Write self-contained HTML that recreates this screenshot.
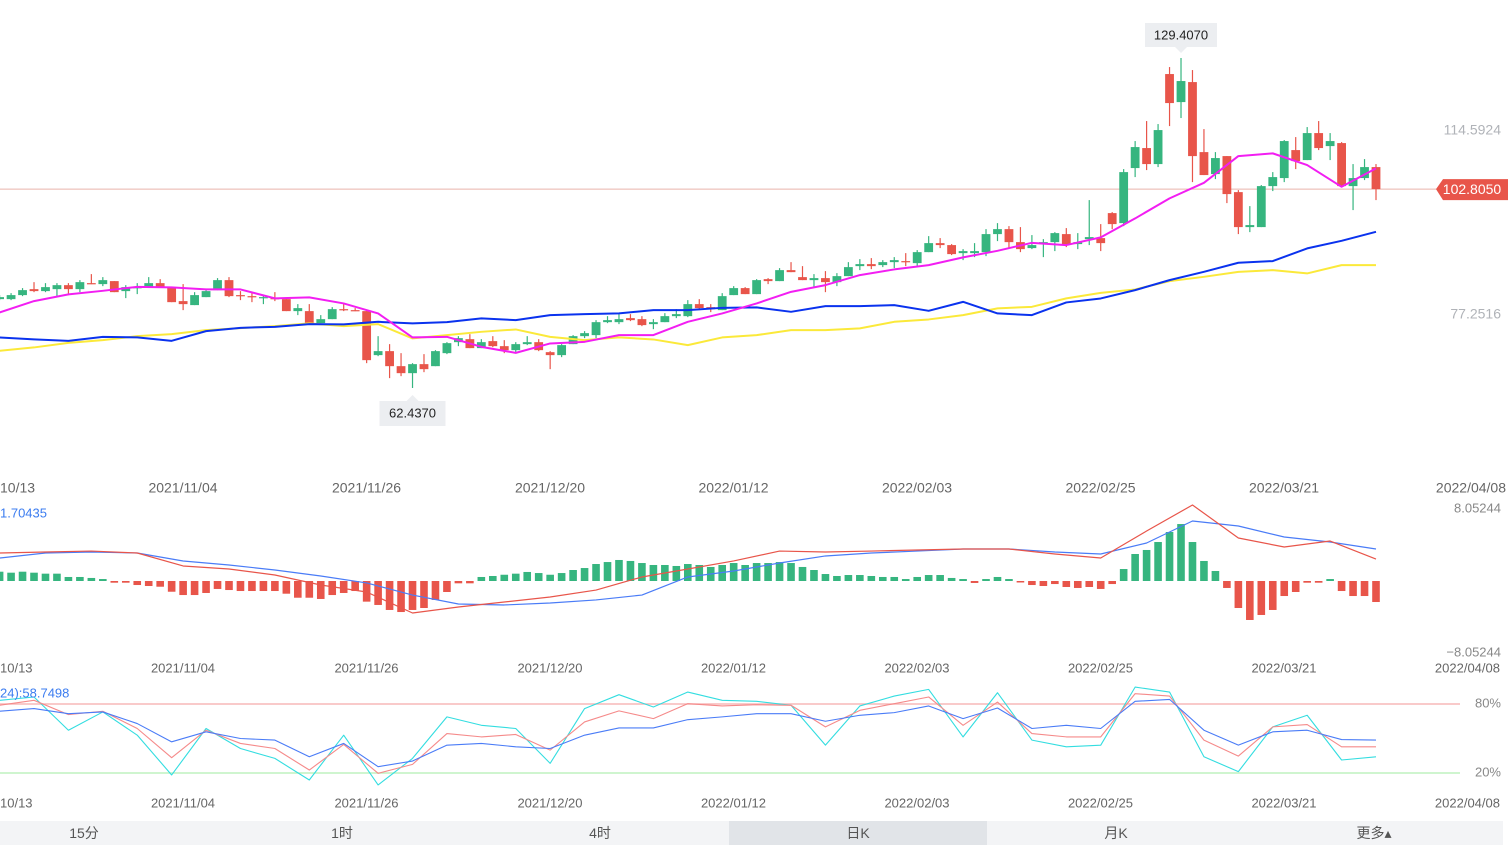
<!DOCTYPE html>
<html><head><meta charset="utf-8"><style>
html,body{margin:0;padding:0;background:#fff;width:1510px;height:850px;overflow:hidden;font-family:"Liberation Sans","Noto Sans CJK SC",sans-serif}
svg{position:absolute;left:0;top:0}
.tabs{position:absolute;left:0;top:821px;width:1503px;height:24px;background:#f3f4f6;overflow:hidden}
.tab{position:absolute;top:0;width:258px;text-align:center;font-size:14px;line-height:24px;color:#555}
.tab.sel{background:#e1e4e8}
</style></head><body>
<svg id="chart" width="1510" height="850" xmlns="http://www.w3.org/2000/svg"></svg>
<div class="tabs">
<div class="tab" style="left:-45px">15分</div>
<div class="tab" style="left:213px">1时</div>
<div class="tab" style="left:471px">4时</div>
<div class="tab sel" style="left:729px">日K</div>
<div class="tab" style="left:987px">月K</div>
<div class="tab" style="left:1245px">更多▴</div>
</div>
<script>
const opens=[80.47,80.47,81.29,82.50,82.10,82.50,83.31,82.50,83.72,83.52,84.13,82.10,82.71,82.91,83.72,82.91,80.07,79.26,80.88,82.30,84.33,81.29,81.08,80.68,80.68,80.47,78.04,78.04,75.60,76.41,78.44,78.24,78.04,69.11,69.92,66.87,65.45,67.28,66.87,69.51,71.74,72.35,70.53,71.95,70.93,70.12,71.34,71.74,69.71,69.11,71.34,72.96,73.17,75.80,75.80,76.62,76.41,75.40,75.80,77.02,77.02,79.46,78.85,78.24,81.29,82.71,81.49,84.53,84.13,86.36,84.94,84.33,84.74,83.92,85.14,87.17,87.58,87.38,87.98,88.19,87.78,90.01,91.84,91.44,89.81,89.81,90.01,93.67,94.68,92.04,90.83,91.64,92.04,93.67,91.64,92.65,92.86,97.93,95.90,107.07,111.13,107.88,126.15,120.46,124.52,110.31,105.85,109.50,102.19,95.09,95.09,103.41,105.04,110.72,108.69,114.17,111.53,112.14,103.41,105.04,107.27];
const highs=[81.29,81.69,82.71,83.92,83.72,83.72,83.72,84.33,85.55,84.94,84.13,83.31,83.72,84.94,84.53,82.91,83.52,81.89,82.30,84.74,84.94,82.10,81.69,81.29,81.89,80.47,79.46,79.46,77.23,78.85,79.46,78.65,78.04,72.96,71.34,69.51,67.48,69.31,70.12,71.74,72.96,73.37,72.35,72.96,72.15,71.74,72.96,72.35,69.92,71.34,73.17,73.98,76.21,77.02,77.43,77.43,77.02,76.41,77.63,78.44,80.27,80.47,79.46,81.69,83.11,82.91,84.53,84.74,86.77,87.98,87.17,85.55,86.16,85.75,87.98,88.59,88.80,88.39,89.00,89.81,90.42,93.26,92.86,91.64,90.62,91.84,94.68,95.90,95.29,95.09,93.47,92.65,94.07,94.89,93.87,100.57,95.70,98.13,106.86,112.55,116.61,116.00,127.57,129.41,126.96,114.98,110.31,109.50,102.60,99.35,103.62,106.25,112.75,113.36,115.39,116.61,114.17,112.34,107.88,108.89,107.88];
const lows=[80.27,80.27,81.08,81.89,81.89,80.88,81.29,81.89,83.52,83.11,81.89,80.68,81.49,82.91,82.91,79.86,78.24,79.26,80.88,82.30,80.88,80.27,79.86,79.46,80.07,78.04,77.23,75.60,75.60,76.41,78.04,78.04,67.48,68.90,64.44,64.84,62.44,65.65,66.87,69.31,70.93,70.53,70.53,70.73,69.51,69.51,71.14,69.92,66.26,68.70,71.34,72.56,72.56,75.60,75.40,76.01,74.99,74.38,75.80,76.62,76.82,78.24,77.83,78.24,81.29,81.49,81.49,83.52,84.13,85.95,84.33,82.91,81.89,83.11,85.14,86.36,86.56,86.97,86.77,87.17,86.97,90.01,90.83,89.41,88.39,89.00,89.20,92.25,90.83,90.01,90.62,89.00,90.22,91.03,90.62,91.44,90.22,94.68,95.29,105.24,106.66,107.27,115.59,117.22,104.22,105.65,104.83,99.96,93.67,94.07,95.09,102.40,104.22,106.86,108.69,110.72,108.69,103.41,98.54,104.63,100.57];
const closes=[80.88,81.29,82.30,82.10,82.91,83.31,82.50,83.92,83.52,84.33,81.89,82.91,82.91,83.72,82.91,79.86,79.46,81.29,82.10,84.33,81.08,81.08,80.88,80.88,80.47,78.04,78.65,75.60,76.41,78.44,78.24,78.04,68.09,69.92,66.87,65.45,67.28,66.26,69.92,71.54,72.56,70.53,71.74,70.93,70.12,71.34,71.74,70.12,69.11,71.14,72.96,73.57,75.80,76.21,76.41,76.21,75.20,75.80,77.02,77.43,79.46,78.65,78.44,81.08,82.71,81.49,84.33,84.13,86.36,85.95,84.33,84.74,83.92,85.14,86.97,87.58,87.17,87.98,88.39,87.98,90.01,91.84,91.44,89.61,90.22,90.22,93.67,94.68,92.04,90.62,91.44,92.04,93.87,91.64,92.04,93.06,91.84,95.70,106.25,111.33,107.88,114.78,120.26,124.73,109.50,105.65,109.10,101.79,95.09,95.50,103.41,105.24,112.55,108.49,114.17,111.13,112.55,103.41,105.04,107.27,102.805];
// moving-average lines sampled every 3 candles
const maPink=[77.77,80.07,81.43,82.16,82.97,82.85,82.44,82.44,80.62,80.82,79.60,77.57,72.70,72.82,70.79,69.57,71.48,71.81,73.17,73.17,75.87,77.57,79.60,81.95,83.32,85.35,86.50,87.38,88.94,90.28,91.90,91.44,93.00,96.85,100.92,104.08,109.50,110.05,107.68,103.27,107.01];
const maBlue=[72.70,72.30,72.01,72.82,72.70,72.01,73.98,74.65,74.85,75.40,75.34,75.87,75.54,75.81,76.56,76.21,77.23,77.43,77.57,78.24,78.24,78.71,78.79,77.90,79.05,79.05,79.26,78.10,79.92,77.57,77.23,79.80,80.61,82.30,84.33,86.02,87.85,88.19,90.77,92.31,94.14];
const maYellow=[69.98,70.67,71.60,72.15,72.96,73.37,74.18,74.59,75.00,75.54,75.00,75.40,72.50,73.17,73.84,74.32,72.82,72.15,72.70,72.29,71.14,72.70,73.17,74.18,74.18,74.53,75.87,76.35,77.23,78.59,78.91,80.62,81.75,82.44,84.13,85.00,86.01,86.36,85.69,87.38,87.38];
const macdHist=[1.04,0.93,1.04,0.93,0.82,0.82,0.45,0.45,0.34,0.22,-0.19,-0.19,-0.45,-0.56,-0.64,-1.20,-1.57,-1.57,-1.34,-0.89,-1.01,-1.12,-1.12,-1.12,-1.12,-1.42,-1.87,-1.87,-2.01,-1.57,-1.34,-1.12,-2.31,-2.68,-3.24,-3.47,-3.24,-3.02,-2.12,-1.23,-0.26,-0.26,0.45,0.56,0.70,0.82,1.01,0.89,0.70,0.89,1.23,1.45,1.90,2.12,2.35,2.24,2.01,1.79,1.79,1.68,1.90,1.79,1.57,1.79,2.01,1.79,2.01,2.01,2.12,2.01,1.57,1.23,0.78,0.56,0.67,0.67,0.56,0.45,0.45,0.22,0.45,0.67,0.67,0.34,0.22,-0.22,0.22,0.45,0.22,-0.11,-0.45,-0.56,-0.34,-0.67,-0.78,-0.67,-0.89,-0.34,1.34,3.02,3.47,4.36,5.48,6.37,4.36,2.24,1.12,-0.78,-3.02,-4.36,-3.80,-3.24,-1.68,-1.23,-0.19,-0.19,0.22,-1.12,-1.68,-1.68,-2.35];
// DIF / DEA sampled every 4 candles
const macdDif=[3.13,3.24,3.35,3.13,1.68,1.34,0.67,-0.45,-1.23,-3.58,-2.91,-2.35,-1.79,-1.01,0.45,1.34,2.24,3.35,3.24,3.35,3.47,3.58,3.58,3.02,2.57,5.59,8.50,4.81,3.80,4.47,2.46];
const macdDea=[2.57,3.13,3.24,3.13,2.24,1.79,1.23,0.56,-0.22,-1.57,-2.57,-2.68,-2.46,-2.12,-1.57,0.45,1.12,2.01,2.80,3.13,3.35,3.58,3.58,3.24,3.02,4.25,6.71,6.15,4.92,4.36,3.58];
// RSI sampled every 3 candles
const rsi6=[83.2,86.1,57.2,73.1,52.9,18.3,58.7,41.3,32.7,13.9,52.9,9.6,32.7,68.8,61.5,58.7,28.4,76.0,88.1,77.4,90.4,83.2,82.3,78.9,44.2,78.3,86.9,92.7,51.4,89.8,48.6,42.8,44.2,94.7,90.4,34.1,21.2,60.1,70.2,31.3,34.1];
const rsi12=[78.9,83.2,70.8,73.7,58.7,33.3,57.2,45.7,41.3,22.6,44.8,19.7,27.5,54.3,51.4,53.5,39.9,64.4,74.0,67.3,80.3,78.3,79.4,78.9,60.1,74.5,80.3,86.1,61.5,81.7,54.3,51.4,51.4,89.0,86.9,48.6,34.7,60.1,62.1,42.8,42.8];
const rsi24=[73.7,76.0,71.6,73.1,63.0,47.1,55.8,50.0,48.6,34.1,45.7,25.5,30.4,44.2,45.7,42.8,41.3,52.9,59.2,59.2,66.4,68.8,71.6,71.6,65.0,70.2,72.5,78.3,67.3,76.5,58.7,61.5,58.7,82.3,84.0,57.2,44.2,55.8,57.2,49.1,48.6];
const dateLabels=["10/13","2021/11/04","2021/11/26","2021/12/20","2022/01/12","2022/02/03","2022/02/25","2022/03/21","2022/04/08"];
const dateIdx=[-16,0,16,32,48,64,80,96,112];
const priceTicks=[114.5924,77.2516];
const lastPrice=102.805;

const NS="http://www.w3.org/2000/svg";
const svg=document.getElementById('chart');
const N=closes.length;
function xOf(i){return 1376-(N-1-i)*11.47;}
function dateX(k){return 183+(dateIdx[k]/16)*183.5;}
function yP(p){return 131+(114.5924-p)*(184/37.3408);}
function yM(v){return 581-v*(72/8.05244);}
function yR(v){return 773-(v-20)*(69/60);}
function el(tag,attrs,parent){const e=document.createElementNS(NS,tag);for(const k in attrs)e.setAttribute(k,attrs[k]);(parent||svg).appendChild(e);return e;}
const GREEN="#36b57f",RED="#e8554a";

const lp=el('line',{x1:0,x2:1440,y1:yP(lastPrice),y2:yP(lastPrice),stroke:'#e9b3ab','stroke-width':1});



const cg=el('g',{});


for(let i=0;i<N;i++){
  const up=closes[i]>=opens[i];const c=up?GREEN:RED;const x=xOf(i);
  const w=el('line',{x1:x,x2:x,y1:yP(highs[i]),y2:yP(lows[i]),stroke:c,'stroke-width':1.2},cg);
  
  
  const t=yP(Math.max(opens[i],closes[i])),b=yP(Math.min(opens[i],closes[i]));
  const r=el('rect',{x:x-4.4,y:t,width:8.8,height:Math.max(1.2,b-t),fill:c},cg);
  
  
}
function poly(vals,step,yf,color,width,name){
  const pts=vals.map((v,k)=>xOf(k*step)+','+yf(v)).join(' ');
  const p=el('polyline',{points:pts,fill:'none',stroke:color,'stroke-width':width,'stroke-linejoin':'round'});
  
  
}
poly(maYellow,3,yP,'#fbe93a',2,'ma-yellow-line');
poly(maBlue,3,yP,'#0a32ee',2,'ma-blue-line');
poly(maPink,3,yP,'#f21ef2',2,'ma-pink-line');

function text(x,y,s,attrs,name){const t=el('text',Object.assign({x:x,y:y,'font-size':14,fill:'#999','dominant-baseline':'middle'},attrs||{}));t.textContent=s;return t;}
priceTicks.forEach(p=>text(1501,yP(p),p.toFixed(4),{'text-anchor':'end',fill:'#b0b3b8'},'price-tick'));
const tg=el('g',{});


const ly=yP(lastPrice);
el('path',{d:`M1436 ${ly} L1443 ${ly-10} L1508 ${ly-10} L1508 ${ly+11} L1443 ${ly+11} Z`,fill:RED},tg);
const lt=el('text',{x:1472,y:ly+1,'font-size':14,fill:'#fff','text-anchor':'middle','dominant-baseline':'middle'},tg);lt.textContent=lastPrice.toFixed(4);

let hi=0,lo=0;for(let i=0;i<N;i++){if(highs[i]>highs[hi])hi=i;if(lows[i]<lows[lo])lo=i;}
function tip(i,v,above,name){
  const g=el('g',{});
  const x=xOf(i);
  if(above){const y=yP(v)-5;el('path',{d:`M${x-36} ${y-30} h72 v24 h-30 l-6 6 l-6 -6 h-30 z`,fill:'#eceef1'},g);
    const t=el('text',{x:x,y:y-17,'font-size':13,fill:'#222','text-anchor':'middle','dominant-baseline':'middle'},g);t.textContent='129.4070';}
  else{const y=yP(v)+7;el('path',{d:`M${x-33} ${y+6} h27 l6 -6 l6 6 h27 v25 h-66 z`,fill:'#eceef1'},g);
    const t=el('text',{x:x,y:y+19,'font-size':13,fill:'#222','text-anchor':'middle','dominant-baseline':'middle'},g);t.textContent='62.4370';}
}
tip(hi,highs[hi],true,'high-tooltip');
tip(lo,lows[lo],false,'low-tooltip');

[[489,14],[669,13],[804,13]].forEach((d,a)=>{
  const yy=d[0],fs=d[1];
  dateLabels.forEach((s,k)=>{
    if(k===0){text(0,yy,s,{fill:'#666','font-size':fs},'date-label');}
    else if(k===dateLabels.length-1){text(a===0?1506:1500,yy,s,{fill:'#666','text-anchor':'end','font-size':fs},'date-label');}
    else text(dateX(k),yy,s,{fill:'#666','text-anchor':'middle','font-size':fs},'date-label');
  });
});

text(1501,509,'8.05244',{'text-anchor':'end',fill:'#888','font-size':13},'macd-max-label');
text(1501,653,'\u22128.05244',{'text-anchor':'end',fill:'#888','font-size':13},'macd-min-label');
text(0,514,'1.70435',{fill:'#3b7cf0','font-size':13},'macd-value-label');
for(let i=0;i<N;i++){
  const v=macdHist[i];const y0=yM(0),y1=yM(v);
  const r=el('rect',{x:xOf(i)-3.8,y:Math.min(y0,y1),width:7.6,height:Math.max(1.5,Math.abs(y1-y0)),fill:v>=0?GREEN:RED});
  
  
}
poly(macdDea,4,yM,'#4a7cf7',1.2,'macd-dea-line');
poly(macdDif,4,yM,'#e8554a',1.2,'macd-dif-line');

const l80=el('line',{x1:0,x2:1460,y1:yR(80),y2:yR(80),stroke:'#f7b8b8','stroke-width':1.5});


const l20=el('line',{x1:0,x2:1460,y1:yR(20),y2:yR(20),stroke:'#bff2bf','stroke-width':1.5});


text(1501,yR(80),'80%',{'text-anchor':'end',fill:'#888','font-size':13},'rsi-80-label');
text(1501,yR(20),'20%',{'text-anchor':'end',fill:'#888','font-size':13},'rsi-20-label');
poly(rsi6,3,yR,'#33dde0',1.1,'rsi6-line');
poly(rsi12,3,yR,'#f58a8a',1.1,'rsi12-line');
poly(rsi24,3,yR,'#4a7cf7',1.1,'rsi24-line');
text(0,694,'24):58.7498',{fill:'#3b7cf0','font-size':13},'rsi-value-label');
</script>
</body></html>
